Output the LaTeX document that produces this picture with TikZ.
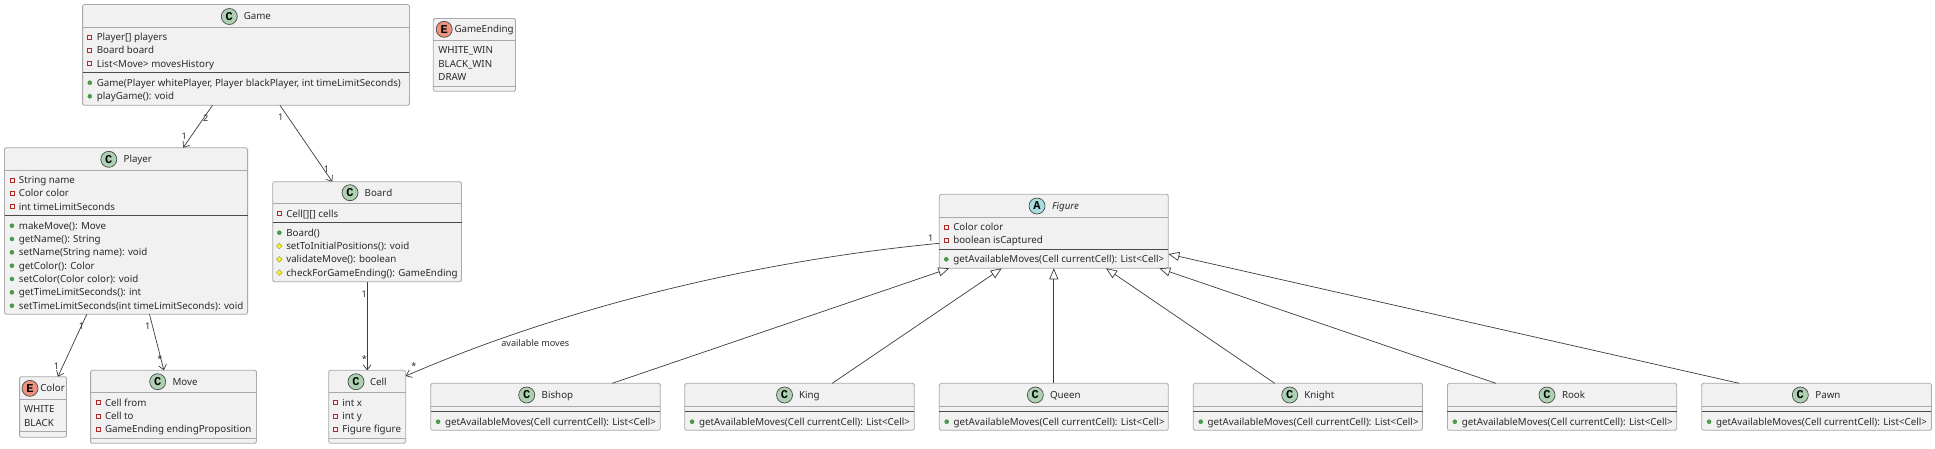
\documentclass[tikz,border=0pt]{standalone}
\usepackage{fontspec}
\setmainfont{Noto Sans}
\newfontfamily\badgefont{Liberation Mono}
\usetikzlibrary{arrows.meta,calc}
\definecolor{boxfill}{HTML}{F1F1F1}
\definecolor{boxline}{HTML}{A9A9A9}
\definecolor{sepdark}{HTML}{4A4A4A}
\definecolor{wire}{HTML}{3C3C3C}
\definecolor{txt}{HTML}{2A2A2A}
\definecolor{cgreen}{HTML}{ADD1B2}
\definecolor{ered}{HTML}{EB937F}
\definecolor{acyan}{HTML}{A9DCDF}
\tikzset{
  clsbox/.style={draw=boxline,fill=boxfill,line width=.8pt,rounded corners=1.5pt,inner sep=0pt,outer sep=0pt},
  sepl/.style={draw=boxline,line width=.8pt},
  sepd/.style={draw=sepdark,line width=.8pt},
  rowtext/.style={anchor=base west,inner sep=0pt,outer sep=0pt,text=txt,font=\fontsize{9.75}{10}\selectfont},
  titletext/.style={rowtext},
  edgelabel/.style={inner sep=0pt,outer sep=0pt,text=txt,font=\fontsize{9.1}{10}\selectfont},
  assoc/.style={draw=wire,line width=.7pt,-{Straight Barb[length=5pt,width=8pt,line width=.7pt]}},
  inherit/.style={draw=wire,line width=.7pt,-{Triangle[length=11pt,width=9pt,fill=white,line width=.7pt]}},
  badge/.style={circle,draw=sepdark,line width=.7pt,minimum size=16pt,inner sep=0pt,outer sep=0pt,text=black,font=\badgefont\fontsize{12}{10}\bfseries\selectfont},
}
\newcount\rowcnt
\newcommand{\classrect}[5]{%
  \pgfmathsetmacro\bw{#4-#2}\pgfmathsetmacro\bh{#5-#3}%
  \pgfmathsetmacro\bx{(#2+#4)/2}\pgfmathsetmacro\by{(#3+#5)/2}%
  \node[clsbox,minimum width=\bw pt,minimum height=\bh pt] (#1) at (\bx,\by) {};}
\newcommand{\lightsep}[2]{\draw[sepl] (#1.west |- 0,#2) -- (#1.east |- 0,#2);}
\newcommand{\darksep}[2]{\draw[sepd] (#1.west |- 0,#2) -- (#1.east |- 0,#2);}
% badge x, y, fill, letter, title x, title
\newcommand{\classhead}[6]{%
  \global\advance\rowcnt by 1
  \node[badge,fill=#3] (b\the\rowcnt) at (#1,#2) {#4};
  \pgfmathsetmacro\ty{#2+3.4}%
  \node[titletext] (h\the\rowcnt) at (#5,\ty) {#6};}
\newcommand{\plainrow}[3]{%
  \global\advance\rowcnt by 1
  \pgfmathsetmacro\ty{#2+3.4}%
  \node[rowtext] (r\the\rowcnt) at (#1,\ty) {#3};}
\newcommand{\privrow}[3]{%
  \pgfmathsetmacro\ix{#1-7}%
  \draw[draw=red!65!black!85,line width=.7pt,fill=none] ($(\ix,#2)+(-2pt,-2pt)$) rectangle ($(\ix,#2)+(2pt,2pt)$);
  \plainrow{#1}{#2}{#3}}
\newcommand{\pubrow}[3]{%
  \pgfmathsetmacro\ix{#1-7}%
  \fill[fill=green!45!black!70!white,draw=green!45!black!80] (\ix,#2) circle (2pt);
  \plainrow{#1}{#2}{#3}}
\newcommand{\protrow}[3]{%
  \pgfmathsetmacro\ix{#1-7}%
  \draw[draw=yellow!60!black,fill=yellow!85!white,line width=.5pt] ($(\ix,#2)+(-2.8pt,0pt)$) -- ($(\ix,#2)+(0pt,2.8pt)$) -- ($(\ix,#2)+(2.8pt,0pt)$) -- ($(\ix,#2)+(0pt,-2.8pt)$) -- cycle;
  \plainrow{#1}{#2}{#3}}
% concrete subclass: name, x1, x2, badge x, title x, title
\newcommand{\subclass}[6]{%
  \classrect{#1}{#2}{383.3}{#3}{430.3}
  \lightsep{#1}{406.7}
  \darksep{#1}{411.3}
  \classhead{#4}{395}{cgreen}{C}{#5}{#6}
  \pgfmathsetmacro\tx{#2+14.4}%
  \edef\txx{\tx}%
  \pubrow{\txx}{421.7}{getAvailableMoves(Cell currentCell): List<Cell>}}
\begin{document}
\begin{tikzpicture}[x=1pt,y=-1pt]
\useasboundingbox[fill=white] (0,0) rectangle (1935,448);

% Game
\classrect{game}{82.6}{4.5}{409.4}{105.3}
\lightsep{game}{27.5}\darksep{game}{72}
\classhead{229.3}{16.5}{cgreen}{C}{243.8}{Game}
\privrow{96.8}{37}{Player[] players}
\privrow{96.8}{50.3}{Board board}
\privrow{96.8}{63.7}{List<Move> movesHistory}
\pubrow{96.8}{82.7}{Game(Player whitePlayer, Player blackPlayer, int timeLimitSeconds)}
\pubrow{96.8}{96.3}{playGame(): void}

% GameEnding
\classrect{gameending}{433.2}{18.5}{515.5}{91.3}
\lightsep{gameending}{40.7}\lightsep{gameending}{86}
\classhead{444.2}{29.3}{ered}{E}{454.5}{GameEnding}
\plainrow{438.4}{50.3}{WHITE\_WIN}
\plainrow{438.4}{63.7}{BLACK\_WIN}
\plainrow{438.4}{77}{DRAW}

% Player
\classrect{player}{4.5}{147.7}{247.6}{314.3}
\lightsep{player}{170.7}\darksep{player}{215.3}
\classhead{108.8}{159.3}{cgreen}{C}{123.6}{Player}
\privrow{18.9}{180}{String name}
\privrow{18.9}{193.3}{Color color}
\privrow{18.9}{206.7}{int timeLimitSeconds}
\pubrow{18.9}{225.7}{makeMove(): Move}
\pubrow{18.9}{239}{getName(): String}
\pubrow{18.9}{252.3}{setName(String name): void}
\pubrow{18.9}{265.7}{getColor(): Color}
\pubrow{18.9}{279}{setColor(Color color): void}
\pubrow{18.9}{292.3}{getTimeLimitSeconds(): int}
\pubrow{18.9}{305.7}{setTimeLimitSeconds(int timeLimitSeconds): void}

% Board
\classrect{board}{272.7}{181.7}{461.5}{281.7}
\lightsep{board}{203.3}\darksep{board}{222.3}
\classhead{350}{192.7}{cgreen}{C}{364.7}{Board}
\privrow{286.3}{213.7}{Cell[][] cells}
\pubrow{286.3}{232.7}{Board()}
\protrow{286.3}{246}{setToInitialPositions(): void}
\protrow{286.3}{259.3}{validateMove(): boolean}
\protrow{286.3}{272.6}{checkForGameEnding(): GameEnding}

% Color
\classrect{color}{19.6}{376.7}{66.5}{437.3}
\lightsep{color}{399.3}\lightsep{color}{431.7}
\classhead{30}{388.3}{ered}{E}{40.3}{Color}
\plainrow{24.1}{409.3}{WHITE}
\plainrow{24.1}{422.7}{BLACK}

% Move
\classrect{move}{90.6}{370.3}{256.5}{443.3}
\lightsep{move}{392.7}\lightsep{move}{438.3}
\classhead{157.7}{381.7}{cgreen}{C}{172.5}{Move}
\privrow{105}{402.7}{Cell from}
\privrow{105}{416}{Cell to}
\privrow{105}{429.3}{GameEnding endingProposition}

% Cell
\classrect{cell}{328.7}{370.3}{405.7}{443.3}
\lightsep{cell}{392.7}\lightsep{cell}{438.3}
\classhead{356}{381.7}{cgreen}{C}{370}{Cell}
\privrow{342.3}{402.7}{int x}
\privrow{342.3}{416}{int y}
\privrow{342.3}{429.3}{Figure figure}

% Figure
\classrect{figure}{939.3}{194.3}{1168.3}{268.3}
\lightsep{figure}{217.3}\darksep{figure}{249.3}
\classhead{1037}{206}{acyan}{A}{1052}{\itshape Figure}
\privrow{953.3}{227}{Color color}
\privrow{953.3}{240}{boolean isCaptured}
\pubrow{953.3}{259.3}{getAvailableMoves(Cell currentCell): List<Cell>}

% Subclasses
\subclass{bishop}{430.7}{660.3}{526.7}{541.7}{Bishop}
\subclass{king}{684.7}{914.3}{784.5}{799}{King}
\subclass{queen}{939.3}{1168.3}{1035.3}{1050}{Queen}
\subclass{knight}{1193.3}{1422.5}{1289.7}{1304.3}{Knight}
\subclass{rook}{1447.4}{1676.8}{1547}{1562}{Rook}
\subclass{pawn}{1701.7}{1931.4}{1800.3}{1815.4}{Pawn}

% Associations
\draw[assoc] ([xshift=-33.5pt]game.south) -- ([xshift=57.15pt]player.north);
\node[edgelabel] (l1) at (205.6,117.7) {2};
\node[edgelabel] (l2) at (184.2,136) {1};
\draw[assoc] ([xshift=34pt]game.south) -- ([xshift=-34.8pt]board.north);
\node[edgelabel] (l3) at (280.7,117.7) {1};
\node[edgelabel] (l4) at (326.4,169.3) {1};
\draw[assoc] ([xshift=-39.25pt]player.south) -- ([xshift=14.85pt]color.north);
\node[edgelabel] (l5) at (81.6,326.7) {1};
\node[edgelabel] (l6) at (56.5,366) {1};
\draw[assoc] ([xshift=23.45pt]player.south) -- ([xshift=-9.65pt]move.north);
\node[edgelabel] (l7) at (147.7,326.7) {1};
\node[edgelabel] (l8) at (159.8,359) {*};
\draw[assoc] (board.south) -- (board.south |- cell.north);
\node[edgelabel] (l9) at (364.3,294) {1};
\node[edgelabel] (l10) at (364.3,358.7) {*};
\draw[assoc] ([yshift=-12pt]figure.west) .. controls (659,270.4) and (464,350.6) .. ([yshift=30.8pt]cell.east);
\node[edgelabel] (l11) at (930.7,238.3) {1};
\node[edgelabel] (l12) at (414,366.3) {*};
\node[edgelabel] (l13) at (535.3,343.3) {available moves};

% Inheritance
\draw[inherit] ([xshift=66.8pt]bishop.north) -- ([xshift=-104.5pt]figure.south);
\draw[inherit] ([xshift=32.7pt]king.north) -- ([xshift=-52.1pt]figure.south);
\draw[inherit] (queen.north) -- (figure.south);
\draw[inherit] ([xshift=-33.2pt]knight.north) -- ([xshift=52.2pt]figure.south);
\draw[inherit] ([xshift=-66.2pt]rook.north) -- ([xshift=105.5pt]figure.south);
\draw[inherit] ([xshift=-77.3pt]pawn.north) -- ([yshift=-22.7pt]figure.east);
\end{tikzpicture}
\end{document}
